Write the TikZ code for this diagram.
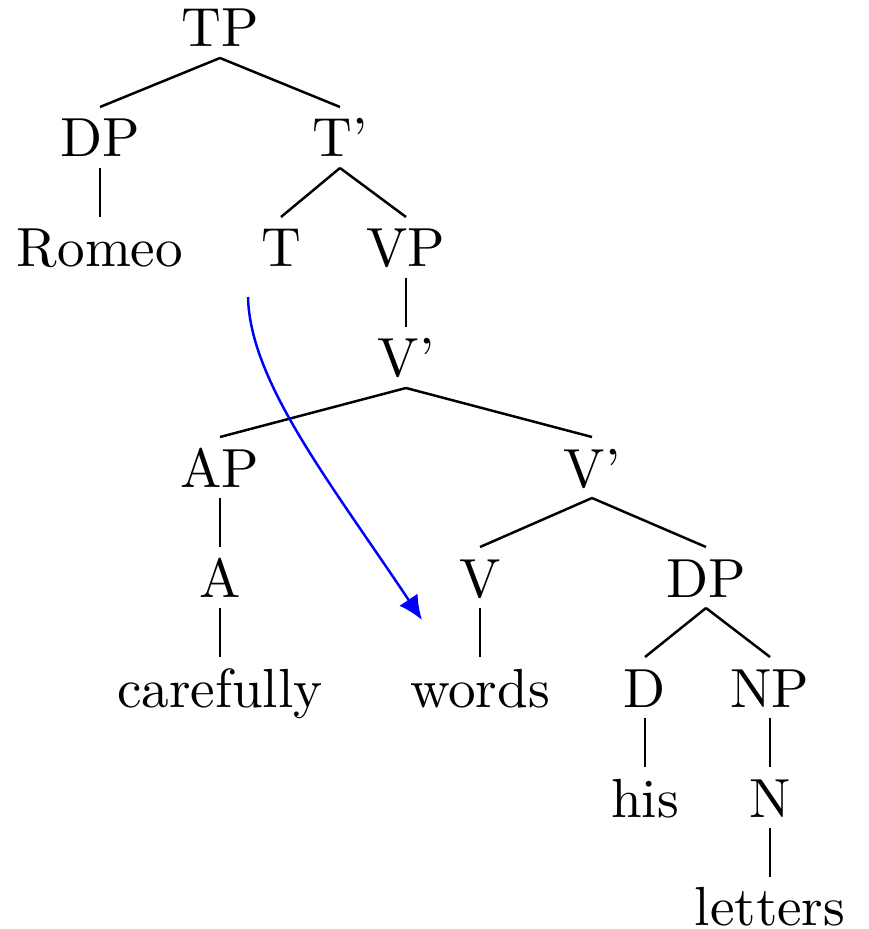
\documentclass[tikz,border=0pt]{standalone}
\usetikzlibrary{calc,arrows.meta}
\begin{document}
\begin{tikzpicture}[x=0.18149pt,y=-0.18149pt,
  lbl/.style={anchor=base,inner sep=0pt,font=\fontsize{10pt}{12pt}\selectfont},
  branch/.style={line width=0.45pt,black},
  movearrow/.style={blue,line width=0.45pt,-{Latex[length=4.4pt,width=4pt]}}]
\useasboundingbox (0,0) rectangle (869,929);
% row baselines: 47 + 110 i
\node[lbl] (TP) at (220,47) {TP};
\node[lbl] (DP) at (100,157) {DP};
\node[lbl] (Tbar) at (340,157) {T'};
\node[lbl] (Romeo) at (100,267) {Romeo};
\node[lbl] (T) at (281,267) {T};
\node[lbl] (VP) at (406,267) {VP};
\node[lbl] (Vbar) at (406,377) {V'};
\node[lbl] (AP) at (220,487) {AP};
\node[lbl] (Vbarb) at (592,487) {V'};
\node[lbl] (A) at (220,597) {A};
\node[lbl] (V) at (480,597) {V};
\node[lbl] (DPb) at (706,597) {DP};
\node[lbl] (carefully) at (220,707) {carefully};
\node[lbl] (words) at (480,707) {words};
\node[lbl] (D) at (645,707) {D};
\node[lbl] (NP) at (770,707) {NP};
\node[lbl] (his) at (645,817) {his};
\node[lbl] (N) at (770,817) {N};
\node[lbl] (letters) at (770,925) {letters};
% branches
\foreach \p/\c in {TP/DP,TP/Tbar,DP/Romeo,Tbar/T,Tbar/VP,VP/Vbar,Vbar/AP,Vbar/Vbarb,
  AP/A,Vbarb/V,Vbarb/DPb,A/carefully,V/words,DPb/D,DPb/NP,D/his,NP/N}
  \draw[branch] ($(\p.base)+(0,11)$) -- ($(\c.base)+(0,-50)$);
\draw[branch] ($(N.base)+(0,11)$) -- ($(letters.base)+(0,-48)$);
% movement arrow
\coordinate (mvstart) at ($(T.base)+(-33,30)$);
\coordinate (mvend) at ($(words.base)+(-58,-87)$);
\draw[movearrow] (mvstart) .. controls ($(mvstart)+(2,85)$) and ($(mvend)+(-92,-138)$) .. (mvend);
\end{tikzpicture}
\end{document}
